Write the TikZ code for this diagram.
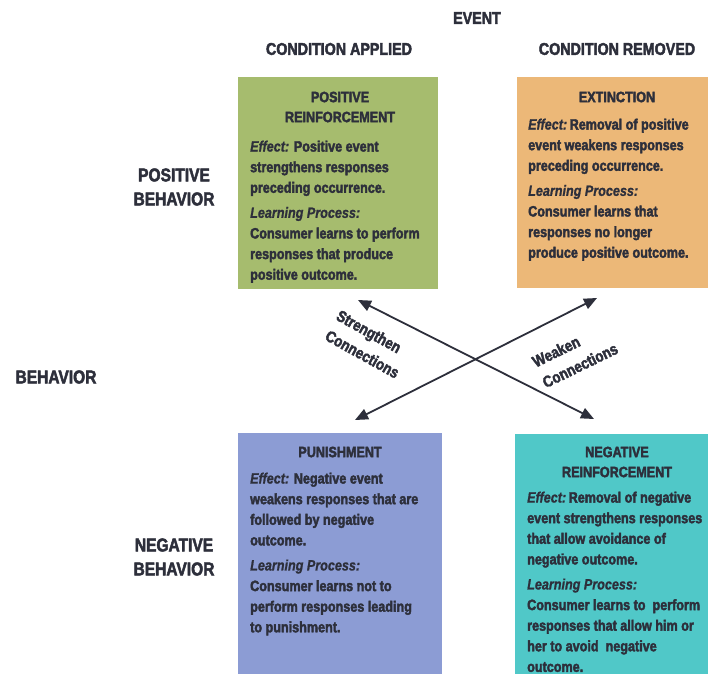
\documentclass[tikz,border=0pt]{standalone}
\usepackage{fontspec}
\setmainfont[FakeStretch=0.84, BoldFeatures={FakeBold=2.5}, BoldItalicFeatures={FakeBold=1}]{Liberation Sans}
\usetikzlibrary{arrows.meta}
\definecolor{ink}{HTML}{2D2F3B}
\definecolor{posgreen}{HTML}{A6BC6E}
\definecolor{extorange}{HTML}{ECB878}
\definecolor{punblue}{HTML}{8C9CD4}
\definecolor{negteal}{HTML}{50C8C8}
\tikzset{
  quad/.style={inner sep=0pt, outer sep=0pt, anchor=north west, draw=none},
  boxtitle/.style={inner sep=0pt, anchor=north, align=center, text=ink,
    font=\fontsize{15}{20}\selectfont\bfseries},
  boxbody/.style={inner sep=0pt, anchor=north west, align=left, text=ink,
    font=\fontsize{15}{20.6}\selectfont\bfseries},
  headlabel/.style={inner sep=0pt, align=center, text=ink,
    font=\fontsize{17}{22}\selectfont\bfseries},
  sidelabel/.style={inner sep=0pt, align=center, text=ink,
    font=\fontsize{18.5}{24}\selectfont\bfseries},
  connlabel/.style={inner sep=0pt, align=left, text=ink,
    font=\fontsize{16}{23}\selectfont\bfseries},
  conn/.style={draw=ink, line width=1.8pt,
    {Triangle[length=13pt,width=11pt]}-{Triangle[length=13pt,width=11pt]}}
}
\newcommand{\lab}[1]{{\itshape #1}}
\begin{document}
\begin{tikzpicture}[x=1pt,y=-1pt]
\useasboundingbox (0,0) rectangle (708,674);
\fill[white] (0,0) rectangle (708,674);

% headings
\node[headlabel] (event) at (477,18) {EVENT};
\node[headlabel] (applied) at (339,49) {CONDITION APPLIED};
\node[headlabel] (removed) at (617,49) {CONDITION REMOVED};
\node[sidelabel] (posbeh) at (174,187) {POSITIVE\\BEHAVIOR};
\node[sidelabel] (beh) at (56,377) {BEHAVIOR};
\node[sidelabel] (negbeh) at (174,557) {NEGATIVE\\BEHAVIOR};

% boxes
\node[quad, fill=posgreen, minimum width=200pt, minimum height=212pt] (pr) at (238,77) {};
\node[quad, fill=extorange, minimum width=191pt, minimum height=211pt] (ex) at (517,77) {};
\node[quad, fill=punblue, minimum width=204pt, minimum height=241pt] (pu) at (238,433) {};
\node[quad, fill=negteal, minimum width=193pt, minimum height=240pt] (nr) at (515,434) {};

% positive reinforcement
\node[boxtitle] (prt) at (340,91.5) {POSITIVE\\REINFORCEMENT};
\node[boxbody] (prb) at (250,140.5) {\lab{Effect:} Positive event\\strengthens responses\\preceding occurrence.\\[4.5pt]
\lab{Learning Process:}\\Consumer learns to perform\\responses that produce\\positive outcome.};

% extinction
\node[boxtitle] (ext) at (617,91.5) {EXTINCTION};
\node[boxbody] (exb) at (528,118.5) {\lab{Effect:}\,Removal of positive\\event weakens responses\\preceding occurrence.\\[4.5pt]
\lab{Learning Process:}\\Consumer learns that\\responses no longer\\produce positive outcome.};

% punishment
\node[boxtitle] (put) at (340,446.5) {PUNISHMENT};
\node[boxbody] (pub) at (250,472.5) {\lab{Effect:} Negative event\\weakens responses that are\\followed by negative\\outcome.\\[4.5pt]
\lab{Learning Process:}\\Consumer learns not to\\perform responses leading\\to punishment.};

% negative reinforcement
\node[boxtitle] (nrt) at (617,446.5) {NEGATIVE\\REINFORCEMENT};
\node[boxbody] (nrb) at (527,491.5) {\lab{Effect:}\,Removal of negative\\event strengthens responses\\that allow avoidance of\\negative outcome.\\[4.5pt]
\lab{Learning Process:}\\Consumer learns to\ \ perform\\responses that allow him or\\her to avoid\ \ negative\\outcome.};

% connectors
\coordinate (a1s) at (358,300);
\coordinate (a1e) at (594,419);
\coordinate (a2s) at (355,420);
\coordinate (a2e) at (597,298);
\draw[conn] (a1s) -- (a1e);
\draw[conn] (a2s) -- (a2e);

\node[connlabel, rotate=-29] (strong) at (368,344) {Strengthen\\Connections};
\node[connlabel, rotate=26] (weak) at (575,355) {Weaken\\Connections};
\end{tikzpicture}
\end{document}
